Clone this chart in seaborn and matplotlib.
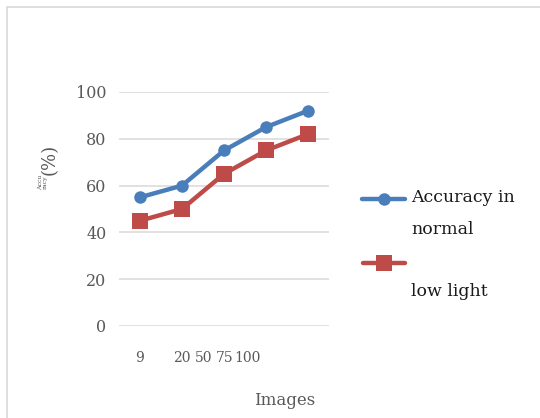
import matplotlib
matplotlib.use("Agg")
import matplotlib.pyplot as plt
import seaborn as sns
import pandas as pd
from matplotlib.lines import Line2D

# Data
categories = ["9", "20", "50", "75", "100"]
accuracy_normal = [55, 60, 75, 85, 92]
accuracy_low_light = [45, 50, 65, 75, 82]
y_ticks = [0, 20, 40, 60, 80, 100]

# positions of the squeezed category labels under the axis
label_positions = [0, 1, 1.52, 2.01, 2.57]

df = pd.DataFrame({
    "pos": list(range(len(categories))) * 2,
    "value": accuracy_normal + accuracy_low_light,
    "series": ["normal"] * len(categories) + ["low"] * len(categories),
})

sns.set_theme(style="white")
plt.rcParams["font.family"] = ["DejaVu Serif", "DejaVu Sans"]

BLUE = "#4A7EBB"
RED = "#BE4B48"
GRAY = "#595959"

fig = plt.figure(figsize=(5.4, 4.18), dpi=100)
fig.patch.set_facecolor("white")
ax = fig.add_axes([119 / 540, 92 / 418, 210 / 540, 234 / 418])

sns.lineplot(data=df[df.series == "normal"], x="pos", y="value", ax=ax,
             color=BLUE, linewidth=3.2, marker="o", markersize=9,
             markeredgecolor=BLUE, markeredgewidth=0)
sns.lineplot(data=df[df.series == "low"], x="pos", y="value", ax=ax,
             color=RED, linewidth=3.2, marker="s", markersize=11,
             markeredgecolor=RED, markeredgewidth=0)

ax.set_xlim(-0.5, len(categories) - 0.5)
ax.set_ylim(0, 100)
ax.set_yticks(y_ticks)
ax.set_yticklabels([str(v) for v in y_ticks], fontsize=11.5, color=GRAY)
ax.set_xticks(label_positions)
ax.set_xticklabels(categories, fontsize=10, color=GRAY)
ax.tick_params(axis="both", length=0)
ax.tick_params(axis="x", pad=18)
ax.tick_params(axis="y", pad=9)
ax.yaxis.grid(True, color="#D9D9D9", linewidth=1.1)
ax.xaxis.grid(False)
for s in ax.spines.values():
    s.set_visible(False)
ax.set_facecolor("white")

ax.set_xlabel("Images", fontsize=12, color=GRAY)
ax.xaxis.set_label_coords((285 - 119) / 210, -(392 - 326) / 234)
ax.set_ylabel("")

# y-axis title: small stacked word plus larger "(%)"
fig.text(50 / 540, 1 - 159 / 418, "(%)", rotation=90, fontsize=13,
         color=GRAY, ha="center", va="center")
fig.text(43 / 540, 1 - 182 / 418, "Accu\nracy", rotation=90, fontsize=4.5,
         color=GRAY, ha="center", va="center", linespacing=1.0)

# legend
fig.add_artist(Line2D([362 / 540, 405 / 540], [1 - 199 / 418] * 2,
                      color=BLUE, linewidth=3.2, transform=fig.transFigure))
fig.add_artist(Line2D([383.5 / 540], [1 - 199 / 418], color=BLUE,
                      marker="o", markersize=9, markeredgewidth=0,
                      transform=fig.transFigure))
fig.add_artist(Line2D([363 / 540, 405 / 540], [1 - 263 / 418] * 2,
                      color=RED, linewidth=3.2, transform=fig.transFigure))
fig.add_artist(Line2D([384 / 540], [1 - 263 / 418], color=RED,
                      marker="s", markersize=11, markeredgewidth=0,
                      transform=fig.transFigure))
leg_kw = dict(fontsize=12.5, color="#1A1A1A", ha="left", va="center")
fig.text(411 / 540, 1 - 198 / 418, "Accuracy in", **leg_kw)
fig.text(411 / 540, 1 - 230 / 418, "normal", **leg_kw)
fig.text(411 / 540, 1 - 292 / 418, "low light", **leg_kw)

# chart area border (top and left edges visible)
fig.add_artist(Line2D([7 / 540, 7 / 540], [0, 1 - 7 / 418], color="#D9D9D9",
                      linewidth=1.2, transform=fig.transFigure))
fig.add_artist(Line2D([7 / 540, 1], [1 - 7 / 418] * 2, color="#D9D9D9",
                      linewidth=1.2, transform=fig.transFigure))

fig.savefig("out.png", dpi=100, facecolor="white")
